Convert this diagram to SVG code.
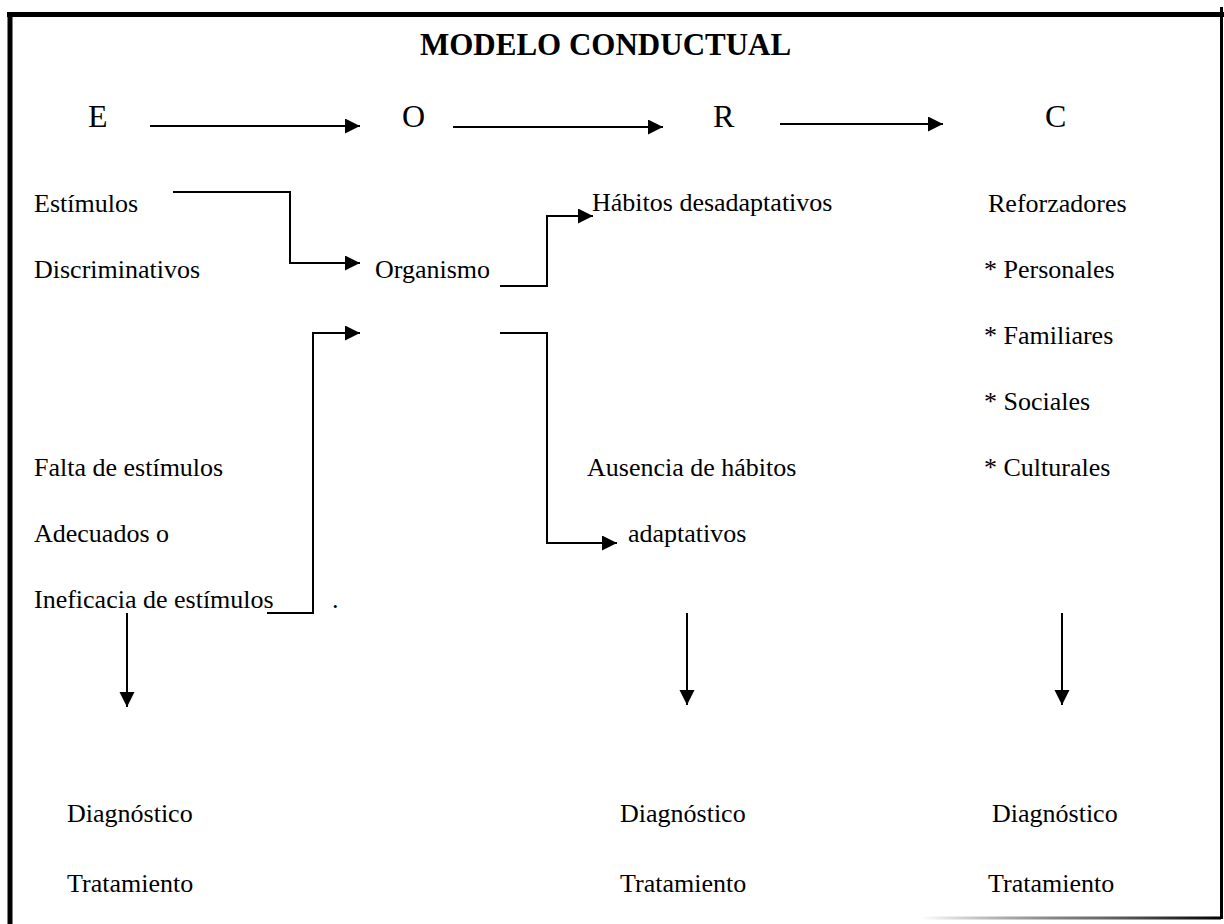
<svg xmlns="http://www.w3.org/2000/svg" width="1224" height="924" viewBox="0 0 1224 924">
  <defs>
    <marker id="arrow" markerUnits="userSpaceOnUse" markerWidth="16" markerHeight="16" refX="15" refY="7.5" orient="auto">
      <path d="M0,0 L15,7.5 L0,15 z" fill="#000"/>
    </marker>
    <linearGradient id="shade" x1="0" y1="0" x2="1" y2="0">
      <stop offset="0" stop-color="#000" stop-opacity="0"/>
      <stop offset="0.6" stop-color="#444" stop-opacity="0.8"/>
      <stop offset="1" stop-color="#000"/>
    </linearGradient>
    <style>
      text { font-family: "Liberation Serif", "Times New Roman", serif; font-size: 26px; fill: #000; }
      .title { font-size: 31px; font-weight: bold; }
      .big { font-size: 32px; }
      .link { fill: none; stroke: #000; stroke-width: 2; }
    </style>
  </defs>

  <rect width="1224" height="924" fill="#fff"/>

  <!-- frame -->
  <g id="frame">
    <line x1="7" y1="14.5" x2="1224" y2="14.5" stroke="#000" stroke-width="5"/>
    <line x1="10" y1="12" x2="10" y2="924" stroke="#000" stroke-width="5"/>
    <line x1="1221.5" y1="7" x2="1221.5" y2="919" stroke="#000" stroke-width="3"/>
    <rect x="920" y="916.5" width="301" height="3" fill="url(#shade)"/>
  </g>

  <g id="title">
    <text class="title" x="420" y="55">MODELO CONDUCTUAL</text>
  </g>

  <!-- top row: E O R C -->
  <g id="node-E"><text class="big" x="88" y="127">E</text></g>
  <g id="node-O"><text class="big" x="402" y="127">O</text></g>
  <g id="node-R"><text class="big" x="713" y="127">R</text></g>
  <g id="node-C"><text class="big" x="1045" y="127">C</text></g>

  <!-- stimuli column -->
  <g id="node-estimulos">
    <text x="34" y="212">Estímulos</text>
    <text x="34" y="278">Discriminativos</text>
  </g>
  <g id="node-falta">
    <text x="34" y="476">Falta de estímulos</text>
    <text x="34" y="542">Adecuados o</text>
    <text x="34" y="608">Ineficacia de estímulos</text>
    <text x="332" y="608">.</text>
  </g>

  <!-- organism -->
  <g id="node-organismo">
    <text x="375" y="278">Organismo</text>
  </g>

  <!-- responses -->
  <g id="node-habitos">
    <text x="592" y="211">Hábitos desadaptativos</text>
  </g>
  <g id="node-ausencia">
    <text x="587" y="476">Ausencia de hábitos</text>
    <text x="628" y="542">adaptativos</text>
  </g>

  <!-- consequences -->
  <g id="node-reforzadores">
    <text x="988" y="212">Reforzadores</text>
    <text x="984" y="278">* Personales</text>
    <text x="984" y="344">* Familiares</text>
    <text x="984" y="410">* Sociales</text>
    <text x="984" y="476">* Culturales</text>
  </g>

  <!-- outcomes -->
  <g id="node-diag-left">
    <text x="67" y="822">Diagnóstico</text>
    <text x="67" y="892">Tratamiento</text>
  </g>
  <g id="node-diag-mid">
    <text x="620" y="822">Diagnóstico</text>
    <text x="620" y="892">Tratamiento</text>
  </g>
  <g id="node-diag-right">
    <text x="992" y="822">Diagnóstico</text>
    <text x="988" y="892">Tratamiento</text>
  </g>

  <!-- connectors -->
  <g id="connectors">
    <line class="link" x1="150" y1="126" x2="360" y2="126" marker-end="url(#arrow)"/>
    <line class="link" x1="453" y1="127" x2="663" y2="127" marker-end="url(#arrow)"/>
    <line class="link" x1="780" y1="124" x2="943" y2="124" marker-end="url(#arrow)"/>

    <polyline class="link" points="173,192 290,192 290,263 360,263" marker-end="url(#arrow)"/>
    <polyline class="link" points="500,286 547,286 547,216 593,216" marker-end="url(#arrow)"/>
    <polyline class="link" points="267,613 313,613 313,333 360,333" marker-end="url(#arrow)"/>
    <polyline class="link" points="500,333 547,333 547,543 617,543" marker-end="url(#arrow)"/>

    <line class="link" x1="127" y1="613" x2="127" y2="707" marker-end="url(#arrow)"/>
    <line class="link" x1="687" y1="613" x2="687" y2="705" marker-end="url(#arrow)"/>
    <line class="link" x1="1062" y1="613" x2="1062" y2="705" marker-end="url(#arrow)"/>
  </g>
</svg>
